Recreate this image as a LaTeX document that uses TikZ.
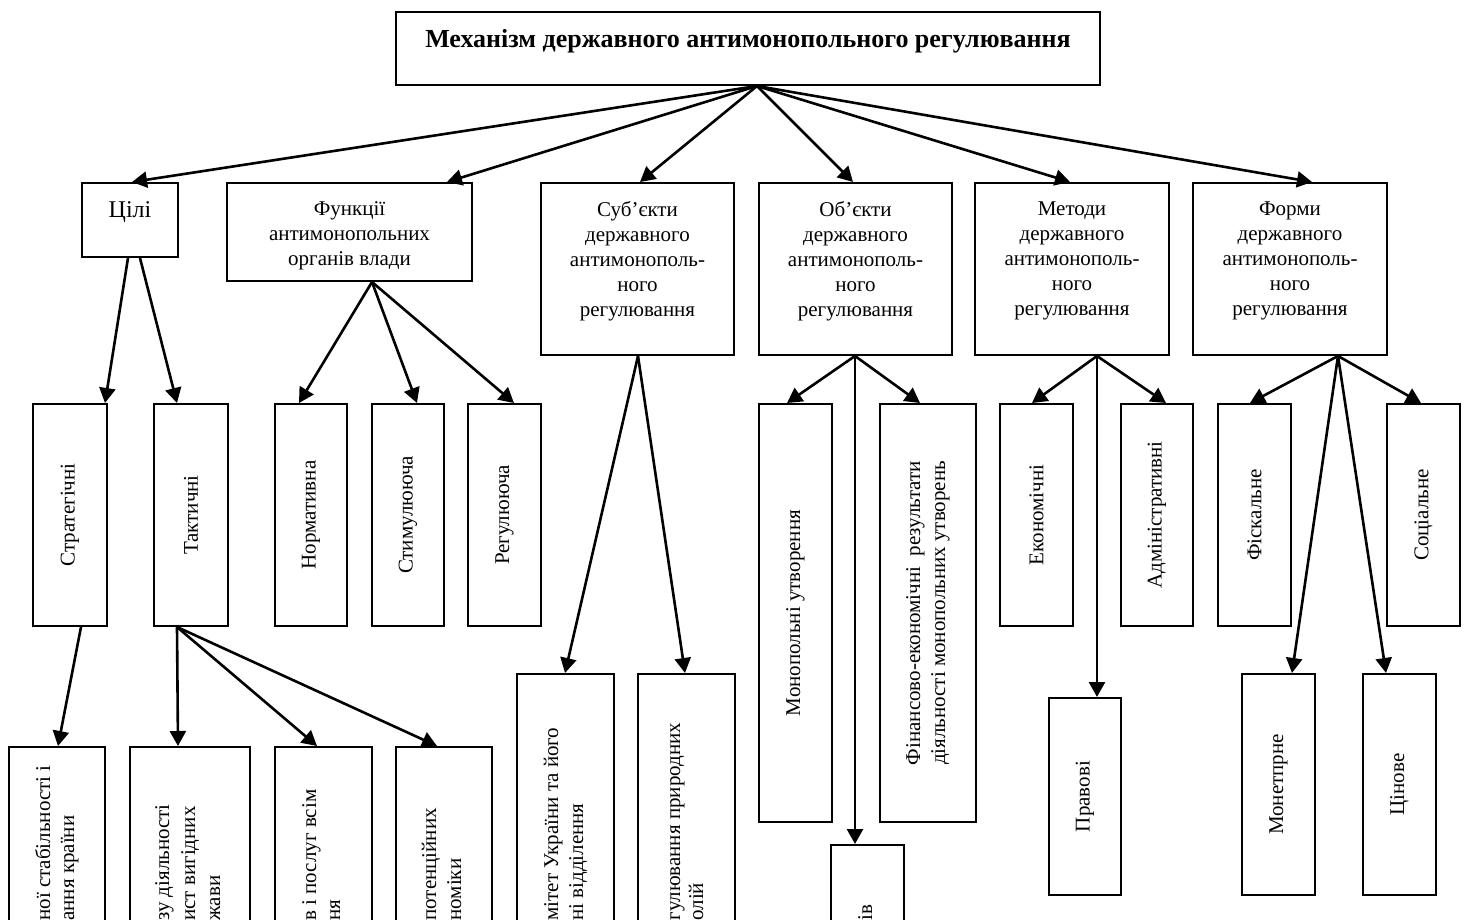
\documentclass[tikz,border=0pt]{standalone}
\usepackage{fontspec}
\setmainfont{Liberation Serif}
\usetikzlibrary{arrows.meta,fit}

\begin{document}
\begin{tikzpicture}[x=0.5pt,y=-0.5pt,
  box/.style={draw, line width=1pt, inner sep=0pt},
  arr/.style={line width=1.3pt, -{Triangle[length=7.5pt,width=8pt]}},
  txt/.style={font=\fontsize{10.5pt}{12.5pt}\selectfont, align=center, inner sep=0pt},
  vtxt/.style={txt, rotate=90},
  cut/.style={font=\fontsize{10.5pt}{12.5pt}\selectfont, inner sep=0pt, rotate=90, anchor=base west},
]
\useasboundingbox (0,0) rectangle (1469,920);
\clip (0,0) rectangle (1469,920);

% root
\node[box, fit={(396,12) (1100,85)}] (top) {};
\node[txt, font=\fontsize{13pt}{15pt}\selectfont\bfseries, anchor=base] (top-t) at (748,48)
  {Механізм державного антимонопольного регулювання};
\coordinate (hub) at (top.south -| 757,0);

% second level
\node[box, fit={(82,183) (178,257)}] (goals) {};
\node[txt, font=\fontsize{12pt}{14pt}\selectfont, anchor=base] (goals-t) at (130,218) {Цілі};
\node[box, fit={(227,183) (472,281)}] (func) {};
\node[txt, anchor=north] (func-t) at (349.5,201) {Функції\\антимонопольних\\органів влади};
\node[box, fit={(541,183) (734,355)}] (subj) {};
\node[txt, anchor=north] (subj-t) at (637.5,201) {Суб’єкти\\державного\\антимонополь-\\ного\\регулювання};
\node[box, fit={(759,183) (952,355)}] (obj) {};
\node[txt, anchor=north] (obj-t) at (855.5,201) {Об’єкти\\державного\\антимонополь-\\ного\\регулювання};
\node[box, fit={(975,183) (1169,355)}] (meth) {};
\node[txt, anchor=north] (meth-t) at (1072,201) {Методи\\державного\\антимонополь-\\ного\\регулювання};
\node[box, fit={(1193,183) (1387,355)}] (form) {};
\node[txt, anchor=north] (form-t) at (1290,201) {Форми\\державного\\антимонополь-\\ного\\регулювання};

% third level
\node[box, fit={(33,404) (107,626)}] (strat) {};
\node[vtxt] (strat-t) at (strat.center) {Стратегічні};
\node[box, fit={(154,404) (228,626)}] (tact) {};
\node[vtxt] (tact-t) at (tact.center) {Тактичні};
\node[box, fit={(275,404) (347,626)}] (norm) {};
\node[vtxt] (norm-t) at (norm.center) {Нормативна};
\node[box, fit={(372,404) (444,626)}] (stim) {};
\node[vtxt] (stim-t) at (stim.center) {Стимулююча};
\node[box, fit={(468,404) (541,626)}] (reg) {};
\node[vtxt] (reg-t) at (reg.center) {Регулююча};
\node[box, fit={(759,404) (832,822)}] (mono) {};
\node[vtxt] (mono-t) at (mono.center) {Монопольні утворення};
\node[box, fit={(880,404) (976,822)}] (fin) {};
\node[vtxt] (fin-t) at (fin.center) {Фінансово-економічні\ \ результати\\діяльності монопольних утворень};
\node[box, fit={(1000,404) (1073,626)}] (econ) {};
\node[vtxt] (econ-t) at (econ.center) {Економічні};
\node[box, fit={(1121,404) (1193,626)}] (adm) {};
\node[vtxt] (adm-t) at (adm.center) {Адміністративні};
\node[box, fit={(1218,404) (1291,626)}] (fisc) {};
\node[vtxt] (fisc-t) at (fisc.center) {Фіскальне};
\node[box, fit={(1387,404) (1460,626)}] (soc) {};
\node[vtxt] (soc-t) at (soc.center) {Соціальне};

% fourth level
\node[box, fit={(9,747) (105,960)}] (g1) {};
\node[cut] (g1-a) at (50,921) {ної стабільності і};
\node[cut] (g1-b) at (74,921) {ання країни};
\node[box, fit={(130,747) (250,960)}] (g2) {};
\node[cut] (g2-a) at (169,921) {зу діяльності};
\node[cut] (g2-b) at (195,921) {ист вигідних};
\node[cut] (g2-c) at (220,921) {жави};
\node[box, fit={(275,747) (372,960)}] (g3) {};
\node[cut] (g3-a) at (316,921) {в і послуг всім};
\node[cut] (g3-b) at (340,921) {ня};
\node[box, fit={(396,747) (492,960)}] (g4) {};
\node[cut] (g4-a) at (436,921) {потенційних};
\node[cut] (g4-b) at (461,921) {номіки};
\node[box, fit={(517,674) (614,960)}] (s1) {};
\node[cut] (s1-a) at (558,921) {мітет України та його};
\node[cut] (s1-b) at (583,921) {ні відділення};
\node[box, fit={(638,674) (735,960)}] (s2) {};
\node[cut] (s2-a) at (680,921) {гулювання природних};
\node[cut] (s2-b) at (703,921) {олій};
\node[box, fit={(831,845) (904,960)}] (o3) {};
\node[cut] (o3-a) at (872,921) {ів};
\node[box, fit={(1049,698) (1121,895)}] (law) {};
\node[vtxt] (law-t) at (law.center) {Правові};
\node[box, fit={(1242,674) (1315,895)}] (mon) {};
\node[vtxt] (mon-t) at (mon.center) {Монетпрне};
\node[box, fit={(1363,674) (1436,895)}] (price) {};
\node[vtxt] (price-t) at (price.center) {Цінове};

% connectors from the root
\draw[arr] (hub) -- (goals.north -| 132,0);
\draw[arr] (hub) -- (func.north -| 447,0);
\draw[arr] (hub) -- (subj.north -| 640,0);
\draw[arr] (hub) -- (obj.north -| 853,0);
\draw[arr] (hub) -- (meth.north -| 1070,0);
\draw[arr] (hub) -- (form.north -| 1312,0);

% goals
\draw[arr] (goals.south -| 128,0) -- (strat.north -| 105,0);
\draw[arr] (goals.south -| 140,0) -- (tact.north -| 177,0);
\draw[arr] (strat.south -| 81,0) -- (g1.north -| 58,0);
\draw[arr] (tact.south -| 177,0) -- (g2.north -| 178,0);
\draw[arr] (tact.south -| 177,0) -- (g3.north -| 317,0);
\draw[arr] (tact.south -| 177,0) -- (g4.north -| 437,0);

% functions
\draw[arr] (func.south -| 372,0) -- (norm.north -| 299,0);
\draw[arr] (func.south -| 372,0) -- (stim.north -| 417,0);
\draw[arr] (func.south -| 372,0) -- (reg.north -| 514,0);

% subjects
\draw[arr] (subj.south -| 638,0) -- (s1.north -| 565,0);
\draw[arr] (subj.south -| 638,0) -- (s2.north -| 685,0);

% objects
\draw[arr] (obj.south -| 855,0) -- (mono.north -| 787,0);
\draw[arr] (obj.south -| 855,0) -- (o3.north -| 855,0);
\draw[arr] (obj.south -| 855,0) -- (fin.north -| 920,0);

% methods
\draw[arr] (meth.south -| 1097,0) -- (econ.north -| 1032,0);
\draw[arr] (meth.south -| 1097,0) -- (law.north -| 1097,0);
\draw[arr] (meth.south -| 1097,0) -- (adm.north -| 1166,0);

% forms
\draw[arr] (form.south -| 1338,0) -- (fisc.north -| 1250,0);
\draw[arr] (form.south -| 1338,0) -- (mon.north -| 1292,0);
\draw[arr] (form.south -| 1338,0) -- (price.north -| 1386,0);
\draw[arr] (form.south -| 1338,0) -- (soc.north -| 1421,0);
\end{tikzpicture}
\end{document}
